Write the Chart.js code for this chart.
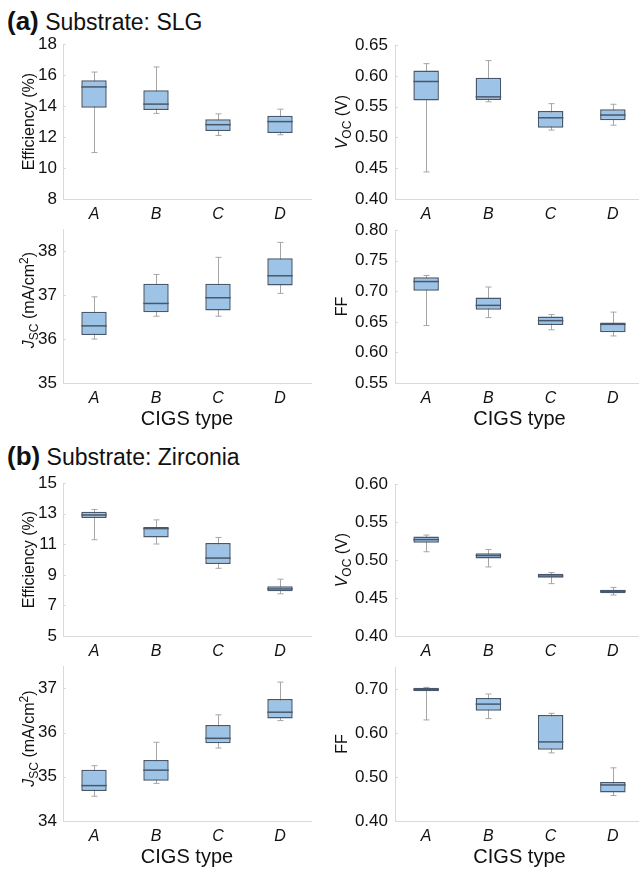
<!DOCTYPE html>
<html>
<head>
<meta charset="utf-8">
<script src="https://cdn.jsdelivr.net/npm/chart.js@4.4.1/dist/chart.umd.min.js"></script>
<style>
  html, body { margin: 0; padding: 0; background: #fff; }
  body { position: relative; width: 639px; height: 873px; overflow: hidden;
         font-family: "Liberation Sans", Arial, sans-serif; color: #111; }
  canvas { position: absolute; }
  .head { position: absolute; left: 7px; font-size: 23px; line-height: 23px; white-space: nowrap; }
  .head b { font-size: 26px; }
</style>
</head>
<body>
<div class="head" style="top:10px"><b>(a)</b> Substrate: SLG</div>
<div class="head" style="top:445px"><b>(b)</b> Substrate: Zirconia</div>
<script>
const categories = ['A', 'B', 'C', 'D'];

// five-number summary per CIGS type: [min, q1, median, q3, max]
const slgEfficiency = [[11.0, 13.9, 15.24, 15.67, 16.2], [13.53, 13.75, 14.13, 15.03, 16.53],
                       [12.1, 12.4, 12.8, 13.15, 13.5], [12.15, 12.27, 13.0, 13.37, 13.8]];
const slgVoc = [[0.444, 0.560, 0.591, 0.609, 0.620], [0.558, 0.561, 0.566, 0.597, 0.625],
                [0.512, 0.516, 0.532, 0.543, 0.555], [0.520, 0.528, 0.5365, 0.546, 0.554]];
const slgJsc = [[36.0, 36.09, 36.30, 36.62, 36.96], [36.52, 36.61, 36.81, 37.26, 37.47],
                [36.52, 36.65, 36.94, 37.26, 37.86], [37.04, 37.22, 37.44, 37.84, 38.2]];
const slgFF = [[0.644, 0.701, 0.716, 0.723, 0.726], [0.657, 0.670, 0.677, 0.690, 0.707],
               [0.637, 0.645, 0.652, 0.659, 0.662], [0.627, 0.633, 0.646, 0.649, 0.666]];
const zrEfficiency = [[11.3, 12.72, 12.92, 13.13, 13.28], [11.02, 11.45, 12.03, 12.14, 12.6],
                      [9.43, 9.71, 10.1, 11.09, 11.45], [7.76, 7.93, 8.08, 8.25, 8.72]];
const zrVoc = [[0.511, 0.523, 0.527, 0.531, 0.533], [0.491, 0.502, 0.506, 0.509, 0.514],
               [0.469, 0.4766, 0.479, 0.482, 0.4836], [0.454, 0.4564, 0.459, 0.461, 0.464]];
const zrJsc = [[34.56, 34.68, 34.8, 35.16, 35.25], [34.85, 34.91, 35.15, 35.38, 35.78],
               [35.65, 35.76, 35.87, 36.17, 36.4], [36.27, 36.32, 36.46, 36.76, 37.14]];
const zrFF = [[0.630, 0.6955, 0.699, 0.703, 0.704], [0.633, 0.651, 0.666, 0.680, 0.689],
              [0.555, 0.562, 0.580, 0.6415, 0.645], [0.458, 0.465, 0.482, 0.489, 0.521]];

// y axis: [min, max, tick step, label step]
const effSlgTicks = [8, 18, 1, 2];
const vocSlgTicks = [0.40, 0.65, 0.05, 0.05];
const jscSlgTicks = [35, 38.5, 0.5, 1];
const ffSlgTicks = [0.55, 0.80, 0.05, 0.05];
const effZrTicks = [5, 15, 1, 2];
const vocZrTicks = [0.40, 0.60, 0.05, 0.05];
const jscZrTicks = [34, 37.5, 0.5, 1];
const ffZrTicks = [0.40, 0.75, 0.05, 0.10];

const xTitle = 'CIGS type';

// axis titles as runs of text (italic / subscript / superscript)
const EFF_TITLE = [{ t: 'Efficiency (%)' }];
const VOC_TITLE = [{ t: 'V', i: true }, { t: 'OC', sub: true }, { t: ' (V)' }];
const JSC_TITLE = [{ t: 'J', i: true }, { t: 'SC', sub: true }, { t: ' (mA/cm' }, { t: '2', sup: true }, { t: ')' }];
const FF_TITLE = [{ t: 'FF' }];

const FONT = '"Liberation Sans", Arial, sans-serif';
const INK = '#111';
const BOX_FILL = '#9dc3e6';
const BOX_LINE = '#48586a';
const WHISKER = '#a6a6a6';
const AXIS = '#d9d9d9';

const panels = [
  { rows: slgEfficiency, ticks: effSlgTicks, dec: 0, title: EFF_TITLE, col: 0, row: 0, shift: 0 },
  { rows: slgVoc,        ticks: vocSlgTicks, dec: 2, title: VOC_TITLE, col: 1, row: 0, shift: 0 },
  { rows: slgJsc,        ticks: jscSlgTicks, dec: 0, title: JSC_TITLE, col: 0, row: 1, shift: -6 },
  { rows: slgFF,         ticks: ffSlgTicks,  dec: 2, title: FF_TITLE,  col: 1, row: 1, shift: 0 },
  { rows: zrEfficiency,  ticks: effZrTicks,  dec: 0, title: EFF_TITLE, col: 0, row: 2, shift: 0 },
  { rows: zrVoc,         ticks: vocZrTicks,  dec: 2, title: VOC_TITLE, col: 1, row: 2, shift: 0 },
  { rows: zrJsc,         ticks: jscZrTicks,  dec: 0, title: JSC_TITLE, col: 0, row: 3, shift: -5 },
  { rows: zrFF,          ticks: ffZrTicks,   dec: 2, title: FF_TITLE,  col: 1, row: 3, shift: 0 }
];

const cols = [
  { left: 0,   width: 320, yw: 63, padRight: 9, titleX: 34, tickPad: 6 },
  { left: 320, width: 330, yw: 75, padRight: 6, titleX: 27, tickPad: 7 }
];
const gridRows = [
  { top: 28,  plot: 156, xh: 26, showTitle: false },
  { top: 213, plot: 155, xh: 50, showTitle: true },
  { top: 467, plot: 154, xh: 26, showTitle: false },
  { top: 650, plot: 156, xh: 50, showTitle: true }
];
const PAD_TOP = 15;

function runFont(seg, size) {
  const s = (seg.sub || seg.sup) ? Math.round(size * 0.75) : size;
  return (seg.i ? 'italic ' : '') + s + 'px ' + FONT;
}

// rotated y-axis title with mixed runs
function drawRichTitle(ctx, segs, x, yMid, size) {
  let total = 0;
  segs.forEach(s => { ctx.font = runFont(s, size); total += ctx.measureText(s.t).width; });
  ctx.save();
  ctx.translate(x, yMid);
  ctx.rotate(-Math.PI / 2);
  ctx.fillStyle = INK;
  ctx.textBaseline = 'alphabetic';
  ctx.textAlign = 'left';
  let pos = -total / 2;
  segs.forEach(s => {
    ctx.font = runFont(s, size);
    const dy = s.sub ? size * 0.28 : (s.sup ? -size * 0.38 : 0);
    ctx.fillText(s.t, pos, dy);
    pos += ctx.measureText(s.t).width;
  });
  ctx.restore();
}

const boxPlot = {
  id: 'boxPlot',
  beforeDatasetsDraw(chart, args, opts) {
    const { ctx } = chart;
    const y = chart.scales.y;
    const meta = chart.getDatasetMeta(0);
    ctx.save();
    ctx.strokeStyle = WHISKER;
    ctx.lineWidth = 1;
    opts.rows.forEach((r, i) => {
      const x = Math.round(meta.data[i].x) + 0.5;
      const hi = y.getPixelForValue(r[4]);
      const lo = y.getPixelForValue(r[0]);
      ctx.beginPath();
      ctx.moveTo(x, hi); ctx.lineTo(x, lo);
      ctx.moveTo(x - 3, hi); ctx.lineTo(x + 3, hi);
      ctx.moveTo(x - 3, lo); ctx.lineTo(x + 3, lo);
      ctx.stroke();
    });
    ctx.restore();
  },
  afterDatasetsDraw(chart, args, opts) {
    const { ctx, chartArea } = chart;
    const y = chart.scales.y;
    const meta = chart.getDatasetMeta(0);
    ctx.save();
    // medians
    ctx.strokeStyle = BOX_LINE;
    ctx.lineWidth = 1.5;
    opts.rows.forEach((r, i) => {
      const bar = meta.data[i];
      const m = y.getPixelForValue(r[2]);
      ctx.beginPath();
      ctx.moveTo(bar.x - bar.width / 2, m);
      ctx.lineTo(bar.x + bar.width / 2, m);
      ctx.stroke();
    });
    // short inward tick marks on the value axis
    ctx.strokeStyle = AXIS;
    ctx.lineWidth = 1;
    y.ticks.forEach(t => {
      const py = Math.round(y.getPixelForValue(t.value)) + 0.5;
      ctx.beginPath();
      ctx.moveTo(chartArea.left, py);
      ctx.lineTo(chartArea.left + 3, py);
      ctx.stroke();
    });
    ctx.restore();
  },
  afterDraw(chart, args, opts) {
    const { chartArea } = chart;
    const mid = (chartArea.top + chartArea.bottom) / 2 + opts.shift;
    drawRichTitle(chart.ctx, opts.title, opts.titleX, mid, 16);
  }
};

panels.forEach(p => {
  const c = cols[p.col];
  const g = gridRows[p.row];
  const canvas = document.createElement('canvas');
  const h = PAD_TOP + g.plot + g.xh;
  canvas.width = c.width;
  canvas.height = h;
  canvas.style.left = c.left + 'px';
  canvas.style.top = g.top + 'px';
  canvas.style.width = c.width + 'px';
  canvas.style.height = h + 'px';
  document.body.appendChild(canvas);

  const [yMin, yMax, step, labelStep] = p.ticks;

  new Chart(canvas.getContext('2d'), {
    type: 'bar',
    data: {
      labels: categories,
      datasets: [{
        data: p.rows.map(r => [r[1], r[3]]),
        backgroundColor: BOX_FILL,
        borderColor: BOX_LINE,
        borderWidth: 1.5,
        borderSkipped: false,
        barPercentage: 0.41,
        categoryPercentage: 1
      }]
    },
    options: {
      responsive: false,
      animation: false,
      events: [],
      layout: { padding: { top: PAD_TOP, right: c.padRight, left: 0, bottom: 0 } },
      plugins: {
        legend: { display: false },
        tooltip: { enabled: false },
        boxPlot: { rows: p.rows, title: p.title, titleX: c.titleX, shift: p.shift }
      },
      scales: {
        x: {
          grid: { display: false, drawTicks: false },
          border: { display: true, color: AXIS, width: 1 },
          ticks: { color: INK, padding: 6, font: { family: FONT, size: 16, style: 'italic' } },
          title: {
            display: g.showTitle, text: xTitle, color: INK,
            padding: { top: 0, bottom: 2 },
            font: { family: FONT, size: 20 }
          },
          afterFit: s => { s.height = g.xh; }
        },
        y: {
          min: yMin,
          max: yMax,
          grid: { display: false, drawTicks: false },
          border: { display: true, color: AXIS, width: 1 },
          ticks: {
            stepSize: step,
            color: INK,
            padding: c.tickPad,
            font: { family: FONT, size: 17 },
            callback: v => {
              const k = (v - yMin) / labelStep;
              return Math.abs(k - Math.round(k)) < 1e-6 ? v.toFixed(p.dec) : '';
            }
          },
          afterFit: s => { s.width = c.yw; }
        }
      }
    },
    plugins: [boxPlot]
  });
});
</script>
</body>
</html>
